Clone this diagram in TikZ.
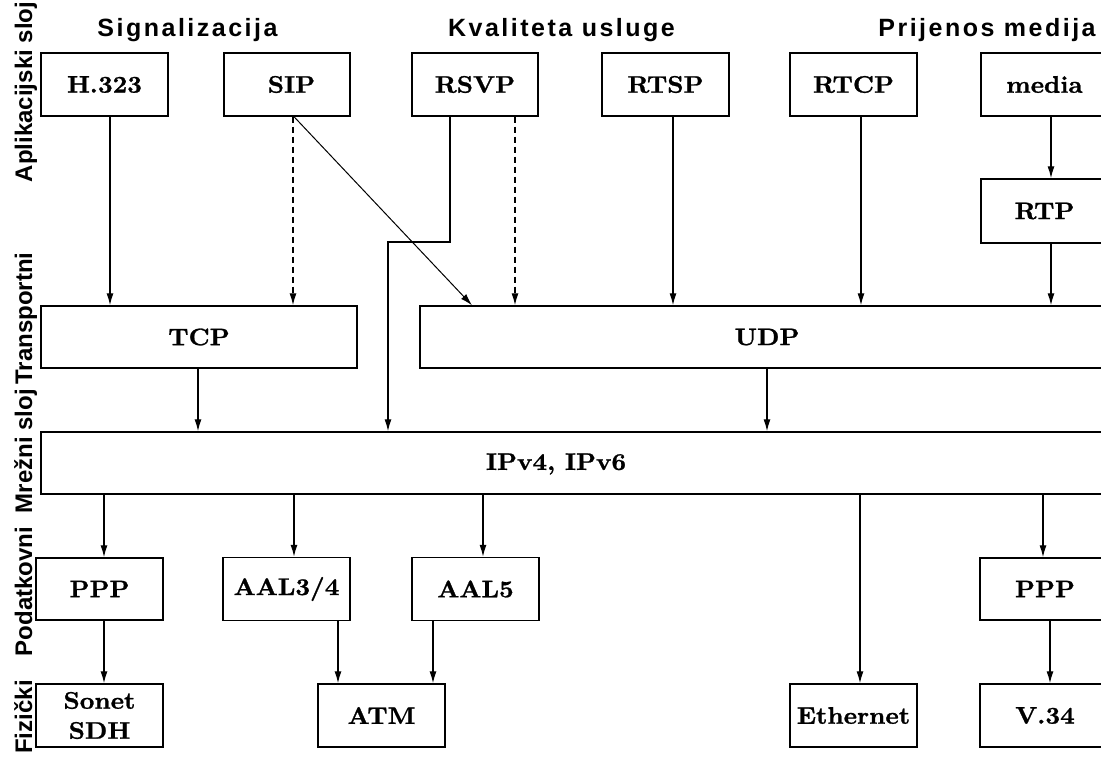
\documentclass[tikz,border=0pt]{standalone}
\usepackage{fontspec}
\usetikzlibrary{arrows.meta}
\newfontfamily\labfont{Liberation Sans}[LetterSpace=10]
\newfontfamily\sidefont{Liberation Sans}
\newfontfamily\boxfont{lmroman10-bold}[Extension=.otf, FakeStretch=1.06, FakeBold=1]
\begin{document}
\begin{tikzpicture}[x=1pt,y=-1pt,
  box/.style={draw, line width=1.4pt, inner sep=0pt, minimum width=127pt, minimum height=63pt,
    font=\boxfont\fontsize{24}{29}\selectfont, align=center},
  txt/.style={inner sep=0pt, font=\boxfont\fontsize{24}{29}\selectfont},
  arr/.style={line width=1.3pt, -{Latex[length=12pt,width=7pt]}},
  dsh/.style={arr, dash pattern=on 6pt off 4pt},
  diag/.style={line width=1pt, -{Latex[length=12pt,width=7pt]}},
  head/.style={font=\labfont\bfseries\fontsize{25}{29}\selectfont, anchor=base, inner sep=0pt},
  side/.style={font=\sidefont\bfseries\fontsize{24}{28}\selectfont, anchor=base, rotate=90, inner sep=0pt}]
\useasboundingbox (0,0) rectangle (1101,756);
\clip (0,0) rectangle (1101,756);
\fill[white] (0,0) rectangle (1101,756);

% headings
\node[head] (hsig) at (187.5,36) {Signalizacija};
\node[head] (hqos) at (561.5,36) {Kvaliteta usluge};
\node[head] (hmed) at (987,36) {Prijenos medija};

% layer labels
\node[side] (lapp) at (32,92) {Aplikacijski sloj};
\node[side] (ltr) at (32,318.5) {Transportni};
\node[side] (lnet) at (32,451) {Mrežni sloj};
\node[side] (ldl) at (32,591.5) {Podatkovni};
\node[side] (lph) at (32,717) {Fizički};

% application layer
\node[box] (h323) at (104.5,84.5) {H.323};
\node[box, minimum width=126pt] (sip) at (287,84.5) {\hspace*{9pt}SIP};
\node[box, minimum width=126pt] (rsvp) at (475,84.5) {RSVP};
\node[box] (rtsp) at (665.5,84.5) {RTSP};
\node[box] (rtcp) at (853.5,84.5) {RTCP};
\node[box] (media) at (1044.5,84.5) {media};
\node[box, minimum height=64pt] (rtp) at (1044.5,211) {RTP};

% transport
\node[box, minimum width=316pt, minimum height=62pt] (tcp) at (199,337) {TCP};
\node[box, minimum width=694pt, minimum height=62pt] (udp) at (767,337) {UDP};

% network
\node[box, minimum width=1074pt, minimum height=62pt] (ip) at (578,463) {};
\node[txt] (iptext) at (556,464) {IPv4, IPv6};

% data link
\node[box, minimum height=62pt] (ppp1) at (99.5,589) {PPP};
\node[box] (aal34) at (286.5,589) {AAL3/4};
\node[box] (aal5) at (475.5,589) {AAL5};
\node[box, minimum width=130pt, minimum height=62pt] (ppp2) at (1045,589) {PPP};

% physical
\node[box, font=\boxfont\fontsize{24}{30}\selectfont] (sonet) at (99.5,715.5) {Sonet\\SDH};
\node[box] (atm) at (381.5,715.5) {ATM};
\node[box] (eth) at (853.5,715.5) {Ethernet};
\node[box, minimum width=130pt] (v34) at (1045,715.5) {V.34};

% application -> transport
\draw[arr] ([xshift=5.5]h323.south) coordinate (a1) -- (a1 |- tcp.north);
\draw[dsh] ([xshift=6]sip.south) coordinate (a2) -- (a2 |- tcp.north);
\draw[diag] ([xshift=7]sip.south) -- ([xshift=-295]udp.north);
\coordinate (bend) at (388,242);
\draw[arr] ([xshift=-25]rsvp.south) |- (bend) -- (bend |- ip.north);
\draw[dsh] ([xshift=40]rsvp.south) coordinate (a3) -- (a3 |- udp.north);
\draw[arr] ([xshift=7.5]rtsp.south) coordinate (a4) -- (a4 |- udp.north);
\draw[arr] ([xshift=7.5]rtcp.south) coordinate (a5) -- (a5 |- udp.north);
\draw[arr] ([xshift=6.5]media.south) coordinate (a6) -- (a6 |- rtp.north);
\draw[arr] ([xshift=6.5]rtp.south) coordinate (a7) -- (a7 |- udp.north);

% transport -> network
\draw[arr] ([xshift=-1]tcp.south) coordinate (a8) -- (a8 |- ip.north);
\draw[arr] (udp.south) -- (udp.south |- ip.north);

% network -> data link / physical
\path ([xshift=4.5]ppp1.north) coordinate (b1);
\draw[arr] (ip.south -| b1) -- (b1);
\path ([xshift=7.5]aal34.north) coordinate (b2);
\draw[arr] (ip.south -| b2) -- (b2);
\path ([xshift=7.5]aal5.north) coordinate (b3);
\draw[arr] (ip.south -| b3) -- (b3);
\path ([xshift=6.5]eth.north) coordinate (b4);
\draw[arr] (ip.south -| b4) -- (b4);
\path ([xshift=-2]ppp2.north) coordinate (b5);
\draw[arr] (ip.south -| b5) -- (b5);

% data link -> physical
\draw[arr] ([xshift=4.5]ppp1.south) coordinate (c1) -- (c1 |- sonet.north);
\draw[arr] ([xshift=51.5]aal34.south) coordinate (c2) -- (c2 |- atm.north);
\draw[arr] ([xshift=-42.5]aal5.south) coordinate (c3) -- (c3 |- atm.north);
\draw[arr] ([xshift=5]ppp2.south) coordinate (c4) -- (c4 |- v34.north);
\end{tikzpicture}
\end{document}
